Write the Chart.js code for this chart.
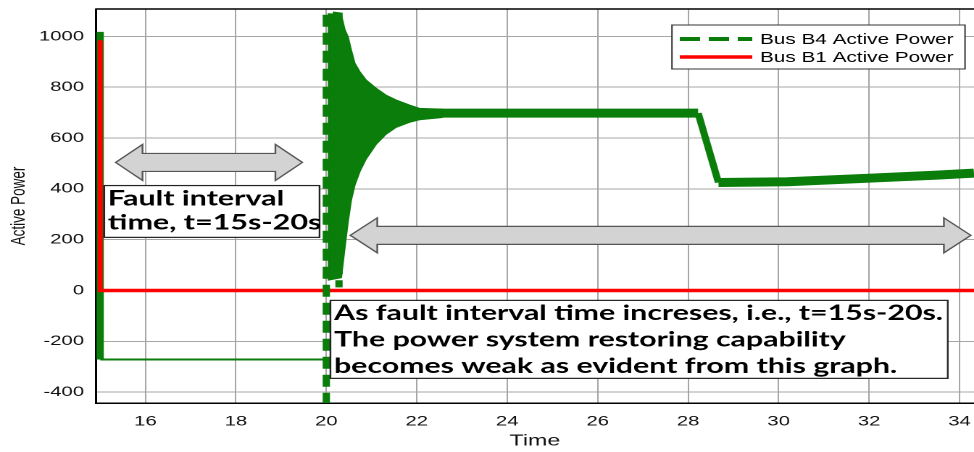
<!DOCTYPE html>
<html>
<head>
<meta charset="utf-8">
<title>Bus active power</title>
<script src="https://cdn.jsdelivr.net/npm/chart.js@4.4.1/dist/chart.umd.min.js"></script>
<style>
  html, body { margin: 0; padding: 0; background: #fff; }
  /* the source figure is stretched sideways, so draw narrow and widen with css */
  #power { display: block; width: 974px !important; height: 452px !important; }
</style>
</head>
<body>
<canvas id="power" width="672" height="452" style="width:974px;height:452px"></canvas>
<script>
const xTicks = [16, 18, 20, 22, 24, 26, 28, 30, 32, 34];
const yTicks = [-400, -200, 0, 200, 400, 600, 800, 1000];

// Bus B1
const b1Time = [15.0, 15.0, 34.32];
const b1Power = [985, 0, 0];

// Bus B4, fault period
const b4FaultTime = [15.0, 15.0, 20.0];
const b4FaultPower = [1018, -272, -272];

// Bus B4, first big swings after clearing
const b4SwingTime = [20.0, 20.0, 20.28, 20.28];
const b4SwingPower = [-450, 1092, 1085, 12];

// Bus B4, envelope of the decaying oscillation
const b4BlobTime = [20.03, 20.33, 20.41, 20.48, 20.55, 20.63, 20.74, 20.88, 21.10, 21.32, 21.54, 21.84, 22.06, 22.57];
const b4BlobTop = [1090, 1085, 1026, 999, 947, 894, 861, 828, 796, 769, 750, 730, 717, 714];
const b4BlobBottom = [40, 50, 170, 270, 355, 415, 468, 518, 575, 615, 642, 662, 672, 681];

// Bus B4, after the oscillation
const b4SteadyTime = [21.9, 28.22, 28.67, 30.2, 32.0, 33.5, 34.32];
const b4SteadyPower = [698, 698, 425, 428, 442, 454, 462];

const GREEN = "#0a7d0a";
const RED = "#ff0000";

function pts(xs, ys) {
  return xs.map((x, i) => ({ x: x, y: ys[i] }));
}

Chart.defaults.font.family = "'Liberation Sans', Arial, sans-serif";
Chart.defaults.color = "#111";

function drawArrow(ctx, xl, xr, yc, hl, hh, sh) {
  ctx.beginPath();
  ctx.moveTo(xl, yc);
  ctx.lineTo(xl + hl, yc - hh);
  ctx.lineTo(xl + hl, yc - sh);
  ctx.lineTo(xr - hl, yc - sh);
  ctx.lineTo(xr - hl, yc - hh);
  ctx.lineTo(xr, yc);
  ctx.lineTo(xr - hl, yc + hh);
  ctx.lineTo(xr - hl, yc + sh);
  ctx.lineTo(xl + hl, yc + sh);
  ctx.lineTo(xl + hl, yc + hh);
  ctx.closePath();
  ctx.fillStyle = "#d3d3d3";
  ctx.fill();
  ctx.strokeStyle = "#555";
  ctx.lineWidth = 1.2;
  ctx.stroke();
}

function drawNote(ctx, l, t, r, b, lines, size, first, gap) {
  ctx.fillStyle = "#fff";
  ctx.fillRect(l, t, r - l, b - t);
  ctx.strokeStyle = "#222";
  ctx.lineWidth = 1.2;
  ctx.strokeRect(l, t, r - l, b - t);
  ctx.fillStyle = "#000";
  ctx.font = "bold " + size + "px Lato, 'Open Sans', sans-serif";
  ctx.textAlign = "left";
  ctx.textBaseline = "middle";
  lines.forEach((s, i) => ctx.fillText(s, l + 2.5, t + first + i * gap));
}

const notes = {
  id: "notes",
  afterDatasetsDraw(chart) {
    const { ctx, chartArea: a } = chart;
    const x = chart.scales.x;
    const y = chart.scales.y;
    ctx.save();

    // top frame
    ctx.strokeStyle = "#000";
    ctx.lineWidth = 1.5;
    ctx.beginPath();
    ctx.moveTo(a.left, a.top);
    ctx.lineTo(a.right, a.top);
    ctx.stroke();

    drawArrow(ctx, x.getPixelForValue(15.34), x.getPixelForValue(19.47), y.getPixelForValue(504), 18.6, 18, 9);
    drawArrow(ctx, x.getPixelForValue(20.53), x.getPixelForValue(34.25), y.getPixelForValue(217), 18.6, 17.5, 9);

    drawNote(ctx, x.getPixelForValue(15.09), y.getPixelForValue(413), x.getPixelForValue(19.85), y.getPixelForValue(209),
      ["Fault interval", "time, t=15s-20s"], 21, 13, 24);
    drawNote(ctx, x.getPixelForValue(20.09), y.getPixelForValue(-39), x.getPixelForValue(33.74), y.getPixelForValue(-346),
      ["As fault interval time increses, i.e., t=15s-20s.",
       "The power system restoring capability",
       "becomes weak as evident from this graph."], 20.9, 13, 26.5);

    // legend
    const lx = 463.6, ly = 25, lw = 202.2, lh = 44;
    ctx.fillStyle = "#fff";
    ctx.fillRect(lx, ly, lw, lh);
    ctx.strokeStyle = "#333";
    ctx.lineWidth = 1;
    ctx.strokeRect(lx, ly, lw, lh);
    ctx.lineWidth = 4;
    ctx.strokeStyle = GREEN;
    ctx.setLineDash([14, 6]);
    ctx.beginPath();
    ctx.moveTo(469, 39);
    ctx.lineTo(519, 39);
    ctx.stroke();
    ctx.setLineDash([]);
    ctx.strokeStyle = RED;
    ctx.lineWidth = 3.5;
    ctx.beginPath();
    ctx.moveTo(469, 57);
    ctx.lineTo(519, 57);
    ctx.stroke();
    ctx.fillStyle = "#000";
    ctx.font = "14.3px 'Liberation Sans', Arial, sans-serif";
    ctx.textBaseline = "middle";
    ctx.fillText("Bus B4 Active Power", 524.4, 40);
    ctx.fillText("Bus B1 Active Power", 524.4, 58);

    ctx.restore();
  }
};

new Chart(document.getElementById("power"), {
  type: "line",
  data: {
    datasets: [
      {
        label: "Bus B4 Active Power",
        data: pts(b4SwingTime, b4SwingPower),
        borderColor: GREEN,
        borderWidth: 5,
        borderDash: [12, 6],
        pointRadius: 0,
      },
      {
        label: "Bus B1 Active Power",
        data: pts(b1Time, b1Power),
        borderColor: RED,
        borderWidth: 3.5,
        pointRadius: 0,
      },
      {
        label: "Bus B4 fault",
        data: pts(b4FaultTime, b4FaultPower),
        borderColor: GREEN,
        pointRadius: 0,
        segment: {
          borderWidth: (c) => (c.p0DataIndex === 0 ? 5 : 2),
          borderDash: (c) => (c.p0DataIndex === 0 ? [12, 6] : []),
        },
      },
      {
        label: "Bus B4 upper",
        data: pts(b4BlobTime, b4BlobTop),
        borderColor: GREEN,
        borderWidth: 1,
        backgroundColor: GREEN,
        fill: "+1",
        pointRadius: 0,
      },
      {
        label: "Bus B4 lower",
        data: pts(b4BlobTime, b4BlobBottom),
        borderColor: GREEN,
        borderWidth: 1,
        pointRadius: 0,
      },
      {
        label: "Bus B4 steady",
        data: pts(b4SteadyTime, b4SteadyPower),
        borderColor: GREEN,
        pointRadius: 0,
        segment: {
          borderWidth: (c) => (c.p0DataIndex === 1 ? 5 : 9),
        },
      },
    ],
  },
  options: {
    responsive: false,
    devicePixelRatio: 2,
    animation: false,
    layout: { padding: { top: 9, right: 0, bottom: 0, left: 0 } },
    plugins: {
      legend: { display: false },
      tooltip: { enabled: false },
    },
    scales: {
      x: {
        type: "linear",
        min: 14.9,
        max: 34.32,
        afterBuildTicks: (s) => {
          s.ticks = xTicks.map((v) => ({ value: v }));
        },
        afterFit: (s) => {
          s.height = 49;
          s.paddingLeft = 0;
          s.paddingRight = 0;
        },
        grid: { color: "#a6a6a6", lineWidth: 1, drawTicks: false },
        border: { color: "#000", width: 1.5 },
        ticks: { padding: 10, maxRotation: 0, autoSkip: false, font: { size: 14 }, callback: (v) => String(v) },
        title: { display: true, text: "Time", font: { size: 16 }, color: "#111", padding: { top: 0, bottom: 1.5 } },
      },
      y: {
        min: -443,
        max: 1108,
        afterBuildTicks: (s) => {
          s.ticks = yTicks.map((v) => ({ value: v }));
        },
        afterFit: (s) => {
          s.width = 66;
          s.paddingTop = 0;
          s.paddingBottom = 0;
        },
        grid: { color: "#a6a6a6", lineWidth: 1, drawTicks: false },
        border: { color: "#000", width: 1.5 },
        ticks: { padding: 8, font: { size: 14 }, callback: (v) => String(v) },
        title: { display: true, text: "Active Power", font: { size: 13.5 }, color: "#111", padding: { top: 5, bottom: 0 } },
      },
    },
  },
  plugins: [notes],
});
</script>
</body>
</html>
